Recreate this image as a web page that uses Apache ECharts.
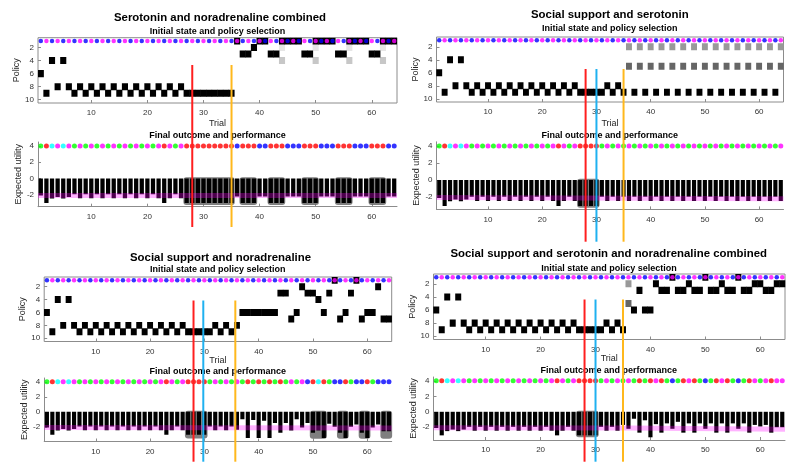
<!DOCTYPE html>
<html><head><meta charset="utf-8">
<script src="https://cdn.jsdelivr.net/npm/echarts@6/dist/echarts.min.js"></script>
<style>html,body{margin:0;padding:0;background:#fff}#c{width:800px;height:474px}</style>
</head><body><div id="c"></div>
<script>
// ---------------- data ----------------
const trialTicks = [10, 20, 30, 40, 50, 60];
const policyTicks = [2, 4, 6, 8, 10];
const utilityTicks = [-2, 0, 2, 4];

const panelTitles = [
  'Serotonin and noradrenaline combined',
  'Social support and serotonin',
  'Social support and noradrenaline',
  'Social support and serotonin and noradrenaline combined'
];
const topSubtitle = 'Initial state and policy selection';
const bottomSubtitle = 'Final outcome and performance';

// initial states (b = blue, m = magenta), trials 1..64
const initialStates = 'bmbmbmbmbmbmbmbmbmbmbmbmbmbmbmbmbmbmbmbmbmbmbmbmbmbmbmbmbmbmbmbm';

// selected policy per trial (null = no dominant policy)
const p1Policy = [6,9,4,8,4,8,9,8,9,8, 9,8,9,8,9,8,9,8,9,8, 9,8,9,8,9,8,9,9,9,9, 9,9,9,9,9,1,3,3,2,1, 1,3,3,1,1,1,1,3,3,1, 1,1,1,3,3,1,1,1,1,3, 3,1,1,1];
const p2Policy = [6,9,4,8,4,8,9,8,9,8, 9,8,9,8,9,8,9,8,9,8, 9,8,9,8,9,8,9,9,9,9, 9,8,9,8,9,null,9,null,9,null, 9,null,9,null,9,null,9,null,9,null, 9,null,9,null,9,null,9,null,9,null, 9,null,9,null];
const p3Policy = [6,9,4,8,4,8,9,8,9,8, 9,8,9,8,9,8,9,8,9,8, 9,8,9,8,9,8,9,9,9,9, 9,8,9,8,9,8,6,6,6,6, 6,6,6,3,3,7,6,2,3,3, 4,6,3,1,7,6,3,1,7,6, 6,2,7,7];
const p4Policy = [6,9,4,8,4,8,9,8,9,8, 9,8,9,8,9,8,9,8,9,8, 9,8,9,8,9,8,9,9,9,9, 9,8,9,8,9,null,6,3,6,6, 2,3,3,1,3,3,2,3,3,1, 3,3,2,3,3,1,3,3,2,2, 3,3,2,2];

// secondary (grey) policy probabilities: [trial, policy, probability]
const p1Secondary = [[44,2,0.1],[44,4,0.22],[50,2,0.1],[50,4,0.22],[56,2,0.1],[56,4,0.22],[62,2,0.1],[62,4,0.22]];
const p2SplitTrials = [36,38,40,42,44,46,48,50,52,54,56,58,60,62,64];
const p2SplitProbs = [[2,0.4],[5,0.6]];
const p3Secondary = [];
const p4Secondary = [[36,2,0.4],[36,5,0.6]];

// expected utility per trial
const p1Utility = [-2.1,-3.05,-2.5,-2.3,-2.5,-2.3,-1.95,-2.45,-1.95,-2.45, -1.95,-2.45,-1.95,-2.45,-1.95,-2.45,-1.95,-2.45,-1.95,-2.45, -1.95,-2.45,-3.05,-2.45,-1.95,-2.45,-3.05,-3.05,-3.05,-3.05, -3.05,-3.05,-3.05,-3.05,-3.05,-2.25,-3.05,-3.05,-3.05,-2.25, -2.25,-3.05,-3.05,-3.05,-2.25,-2.25,-2.25,-3.05,-3.05,-3.05, -2.25,-2.25,-2.25,-3.05,-3.05,-3.05,-2.25,-2.25,-2.25,-3.05, -3.05,-3.05,-2.25,-2.25];
const p2Utility = [-2.1,-3.05,-2.5,-2.3,-2.5,-2.3,-1.95,-2.45,-1.95,-2.45, -1.95,-2.45,-1.95,-2.45,-1.95,-2.45,-1.95,-2.45,-1.95,-2.45, -1.95,-2.45,-3.05,-2.45,-1.95,-2.45,-3.05,-3.05,-3.05,-3.05, -1.95,-2.45,-1.95,-2.45,-1.95,-2.45,-1.95,-2.45,-1.95,-2.45, -1.95,-2.45,-1.95,-2.45,-1.95,-2.45,-1.95,-2.45,-1.95,-2.45, -1.95,-2.45,-1.95,-2.45,-1.95,-2.45,-1.95,-2.45,-1.95,-2.45, -1.95,-2.45,-1.95,-2.45];
const p3Utility = [-2.1,-3.05,-2.5,-2.3,-2.5,-2.3,-1.95,-2.45,-1.95,-2.45, -1.95,-2.45,-1.95,-2.45,-1.95,-2.45,-1.95,-2.45,-1.95,-2.45, -1.95,-2.45,-3.05,-2.45,-1.95,-2.45,-3.05,-3.05,-3.05,-3.05, -1.95,-2.45,-1.95,-2.45,-1.95,-2.4,-1.0,-3.5,-1.1,-3.5, -1.2,-3.5,-1.5,-2.8,-1.5,-2.5,-1.0,-2.1,-1.5,-2.8, -2.5,-3.5,-1.6,-2.0,-2.8,-3.5,-2.0,-1.7,-2.8,-3.5, -2.1,-1.7,-2.6,-2.6];
const p4Utility = [-2.1,-3.05,-2.5,-2.3,-2.5,-2.3,-1.95,-2.45,-1.95,-2.45, -1.95,-2.45,-1.95,-2.45,-1.95,-2.45,-1.95,-2.45,-1.95,-2.45, -1.95,-2.45,-3.05,-2.45,-1.95,-2.45,-3.05,-3.05,-3.05,-3.05, -1.95,-2.45,-1.95,-2.45,-1.7,-2.2,-0.9,-2.7,-1.1,-3.3, -1.6,-2.7,-1.5,-2.2,-1.3,-2.7,-1.5,-2.7,-1.5,-2.2, -1.5,-2.7,-1.5,-2.7,-1.5,-2.2,-1.5,-2.7,-1.7,-1.9, -1.7,-2.7,-2.0,-2.0];

// final outcomes (g green, r red, c cyan, m magenta, b blue)
const p1Outcomes = 'grcmcmgmgm' + 'gmgmgmgmgm' + 'gmrmgmrrrr' + 'rrrrrbrrrb' + 'brrrbbbrrr' + 'bbbrrrbbbr' + 'rrbb';
const p2Outcomes = 'grcmcmgmgm' + 'gmgmgmgmgm' + 'gmrmgmrrrr' + 'gmgmgmgmgm' + 'gmgmgmgmgm' + 'gmgmgmgmgm' + 'gmgm';
const p3Outcomes = 'grcmcmgmgm' + 'gmgmgmgmgm' + 'gmrmgmrrrr' + 'gmgmgmgrgr' + 'grgrgmgmbr' + 'crgbbrgbbr' + 'gbbb';
const p4Outcomes = 'grcmcmgmgm' + 'gmgmgmgmgm' + 'gmrmgmrrrr' + 'gmgmgmgrgr' + 'mrgbgrmrgb' + 'grmrgbgrmg' + 'mrmm';

// highlighted trial runs: [first trial, last trial, lower utility of the box]
const p1Highlights = [[27,35,-3.3],[37,39,-3.3],[42,44,-3.3],[48,50,-3.3],[54,56,-3.3],[60,62,-3.3]];
const p2Highlights = [[27,30,-3.25]];
const p3Highlights = [[27,30,-3.55],[50,52,-3.6],[55,56,-3.6],[59,60,-3.6],[63,64,-3.6]];
const p4Highlights = [[27,30,-3.3]];

// preference (pink) line: [trial, utility]
const p1Pink = [[0.5,-2.12],[64.5,-2.12]];
const p2Pink = [[0.5,-2.05],[64.5,-2.2]];
const p3Pink = [[0.5,-2.1],[64.5,-2.15]];
const p4Pink = [[0.5,-2.05],[36,-2.1],[64.5,-2.25]];

// vertical event markers (trial)
const p1Markers = {red:28, orange:35};
const p2Markers = {red:28, blue:30, orange:35};
const p3Markers = {red:28, blue:29.8, orange:35.7};
const p4Markers = {red:28, blue:30, orange:35};

const utilityMin = [-3.5, -3.45, -3.95, -3.65];

// ---------------- layout / style ----------------
const FONT = '"Liberation Sans", Arial, Helvetica, sans-serif';
const AX = '#8c8c8c';
const COLORS = {g:'#00ff00', r:'#ff0000', c:'#00ffff', m:'#ff00ff', b:'#0000ff'};
const MARK_COLORS = {red:'#ff1f1f', blue:'#1fb1f0', orange:'#ffb81c'};
const layouts = [
  {left:38,   right:397,   topT:37.7, topB:103,   botT:142,   botB:206.7, titleX:220,   titleY:18,    subX:217.5, subY:32,    botTitleX:217.5, botTitleY:136,   trialGap:16.5, lineY:[65,227]},
  {left:436.5,right:783.5, topT:37,   topB:102,   botT:141.8, botB:209.4, titleX:609.8, titleY:15,    subX:609.7, subY:28.5,  botTitleX:609.7, botTitleY:135.7, trialGap:17.5, lineY:[69,241.7]},
  {left:44.2, right:391.7, topT:277,  topB:341.5, botT:378,   botB:441.5, titleX:220.5, titleY:258.3, subX:217.8, subY:270,   botTitleX:217.8, botTitleY:371.7, trialGap:14,   lineY:[300.5,461.7]},
  {left:433.5,right:785,   topT:274,  topB:339.5, botT:377,   botB:440,   titleX:608.7, titleY:254,   subX:609,   subY:269,   botTitleX:608.8, botTitleY:370.7, trialGap:15,   lineY:[299.5,461.7]}
];

function expandSplit(trials, probs) {
  const out = [];
  trials.forEach(t => probs.forEach(pp => out.push([t, pp[0], pp[1]])));
  return out;
}

const panels = [
  {policy:p1Policy, secondary:p1Secondary, utility:p1Utility, outcomes:p1Outcomes, highlights:p1Highlights, pink:p1Pink, markers:p1Markers},
  {policy:p2Policy, secondary:expandSplit(p2SplitTrials, p2SplitProbs), utility:p2Utility, outcomes:p2Outcomes, highlights:p2Highlights, pink:p2Pink, markers:p2Markers},
  {policy:p3Policy, secondary:p3Secondary, utility:p3Utility, outcomes:p3Outcomes, highlights:p3Highlights, pink:p3Pink, markers:p3Markers},
  {policy:p4Policy, secondary:p4Secondary, utility:p4Utility, outcomes:p4Outcomes, highlights:p4Highlights, pink:p4Pink, markers:p4Markers}
];

function rectFrom(a, b) {
  return {x:Math.min(a[0],b[0]), y:Math.min(a[1],b[1]), width:Math.abs(b[0]-a[0]), height:Math.abs(b[1]-a[1])};
}
function cellRender(params, api) {
  const t = api.value(0), p = api.value(1), prob = api.value(2);
  const s = rectFrom(api.coord([t-0.5, p-0.5]), api.coord([t+0.5, p+0.5]));
  s.x -= 0.25; s.width += 0.5; s.y -= 0.25; s.height += 0.5;
  const g = Math.round(255*(1-prob));
  return {type:'rect', shape:s, style:{fill:'rgb('+g+','+g+','+g+')'}};
}
function barRender(params, api) {
  const t = api.value(0), v = api.value(1);
  return {type:'rect', shape:rectFrom(api.coord([t-0.38, 0]), api.coord([t+0.38, v])), style:{fill:'#000'}};
}
function highlightRender(params, api) {
  const s0 = api.value(0), s1 = api.value(1), lo = api.value(2);
  const r = rectFrom(api.coord([s0-0.58, 0.15]), api.coord([s1+0.58, lo]));
  r.r = 3;
  return {type:'rect', shape:r, style:{fill:'rgba(105,105,105,0.85)'}};
}

const grid = [], xAxis = [], yAxis = [], series = [];
const labelStyle = {fontSize:8, color:'#333', fontFamily:FONT};
const nameStyle = {fontSize:9, color:'#262626', fontFamily:FONT};

panels.forEach((P, i) => {
  const L = layouts[i];
  const ti = 2*i, bi = 2*i+1;
  grid.push({left:L.left, top:L.topT, width:L.right-L.left, height:L.topB-L.topT, show:true, borderColor:AX, borderWidth:1, backgroundColor:'#fff'});
  grid.push({left:L.left, top:L.botT, width:L.right-L.left, height:L.botB-L.botT, show:false});

  xAxis.push({gridIndex:ti, type:'value', min:0.5, max:64.5, name:'Trial', nameLocation:'middle', nameGap:L.trialGap, nameTextStyle:nameStyle,
    axisLine:{show:false}, splitLine:{show:false},
    axisTick:{show:true, inside:true, length:3, customValues:trialTicks, lineStyle:{color:AX}},
    axisLabel:{customValues:trialTicks, margin:6, ...labelStyle}});
  yAxis.push({gridIndex:ti, type:'value', inverse:true, min:0.5, max:10.5, name:'Policy', nameLocation:'middle', nameRotate:90, nameGap:15, nameTextStyle:nameStyle,
    axisLine:{show:false}, splitLine:{show:false},
    axisTick:{show:true, inside:true, length:3, customValues:policyTicks, lineStyle:{color:AX}},
    axisLabel:{customValues:policyTicks, margin:4, ...labelStyle}});

  xAxis.push({gridIndex:bi, type:'value', min:0.5, max:64.5,
    axisLine:{show:true, onZero:false, lineStyle:{color:AX}}, splitLine:{show:false},
    axisTick:{show:true, inside:true, length:3, customValues:trialTicks, lineStyle:{color:AX}},
    axisLabel:{customValues:trialTicks, margin:6, ...labelStyle}});
  yAxis.push({gridIndex:bi, type:'value', min:utilityMin[i], max:4.5, name:'Expected utility', nameLocation:'middle', nameRotate:90, nameGap:15, nameTextStyle:nameStyle,
    axisLine:{show:true, onZero:false, lineStyle:{color:AX}}, splitLine:{show:false},
    axisTick:{show:true, inside:true, length:3, customValues:utilityTicks, lineStyle:{color:AX}},
    axisLabel:{customValues:utilityTicks, margin:4, ...labelStyle}});

  // policy cells
  const cells = [];
  P.secondary.forEach(s => cells.push(s));
  P.policy.forEach((p, k) => { if (p !== null) cells.push([k+1, p, 1]); });
  series.push({type:'custom', xAxisIndex:ti, yAxisIndex:ti, renderItem:cellRender, data:cells, clip:true, z:2, silent:true});
  // initial state dots
  series.push({type:'scatter', xAxisIndex:ti, yAxisIndex:ti, symbol:'circle', symbolSize:4.5, z:4, silent:true,
    data: initialStates.split('').map((c, k) => ({value:[k+1, 1], itemStyle:{color:COLORS[c]}}))});

  // highlights
  series.push({type:'custom', xAxisIndex:bi, yAxisIndex:bi, renderItem:highlightRender, data:P.highlights, clip:true, z:1, silent:true});
  // bars
  series.push({type:'custom', xAxisIndex:bi, yAxisIndex:bi, renderItem:barRender, data:P.utility.map((v, k) => [k+1, v]), clip:true, z:2, silent:true});
  // pink preference line
  series.push({type:'line', xAxisIndex:bi, yAxisIndex:bi, data:P.pink, symbol:'none', z:3, silent:true,
    lineStyle:{color:'rgba(255,0,255,0.3)', width:5}});
  // outcome dots
  series.push({type:'scatter', xAxisIndex:bi, yAxisIndex:bi, symbol:'circle', symbolSize:5, z:4, silent:true,
    data: P.outcomes.split('').map((c, k) => ({value:[k+1, 4], itemStyle:{color:COLORS[c]}}))});
});

const chart = echarts.init(document.getElementById('c'), null, {renderer:'canvas'});
chart.setOption({animation:false, backgroundColor:'#fff', grid, xAxis, yAxis, series});

// titles + vertical markers
const graphic = [];
panels.forEach((P, i) => {
  const L = layouts[i];
  graphic.push({type:'text', x:L.titleX, y:L.titleY, z:50, style:{text:panelTitles[i], font:'bold 11.4px ' + FONT, fill:'#000', align:'center', verticalAlign:'middle'}});
  graphic.push({type:'text', x:L.subX, y:L.subY, z:50, style:{text:topSubtitle, font:'bold 9px ' + FONT, fill:'#000', align:'center', verticalAlign:'middle'}});
  graphic.push({type:'text', x:L.botTitleX, y:L.botTitleY, z:50, style:{text:bottomSubtitle, font:'bold 9px ' + FONT, fill:'#000', align:'center', verticalAlign:'middle'}});
  ['red','blue','orange'].forEach(k => {
    if (P.markers[k] === undefined) return;
    const x = chart.convertToPixel({xAxisIndex:2*i}, P.markers[k]);
    graphic.push({type:'line', z:60, shape:{x1:x, y1:L.lineY[0], x2:x, y2:L.lineY[1]}, style:{stroke:MARK_COLORS[k], lineWidth:2}});
  });
});
chart.setOption({graphic});
</script></body></html>
